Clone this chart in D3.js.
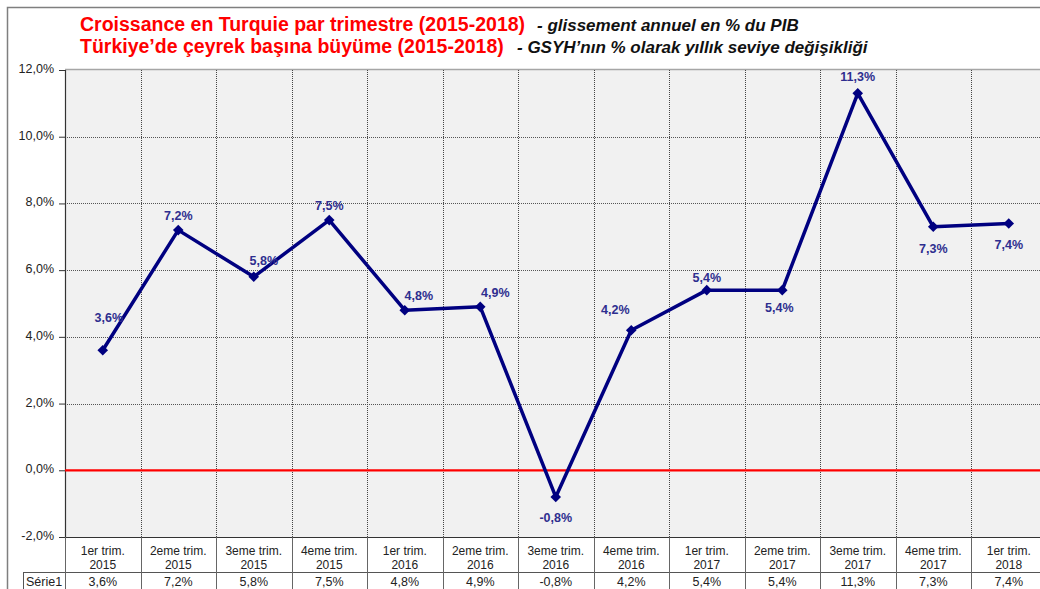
<!DOCTYPE html>
<html>
<head>
<meta charset="utf-8">
<script src="https://cdn.jsdelivr.net/npm/d3@7"></script>
<style>
  body { margin: 0; background: #fff; }
  svg { display: block; font-family: Arial, "Liberation Sans", sans-serif; }
</style>
</head>
<body>
<div id="viz"></div>
<script>
// Données
let trimestres = ['1er trim.', '2eme trim.', '3eme trim.', '4eme trim.',
                  '1er trim.', '2eme trim.', '3eme trim.', '4eme trim.',
                  '1er trim.', '2eme trim.', '3eme trim.', '4eme trim.', '1er trim.'];
let annees = ['2015', '2015', '2015', '2015', '2016', '2016', '2016', '2016',
              '2017', '2017', '2017', '2017', '2018'];
let croissance = [3.6, 7.2, 5.8, 7.5, 4.8, 4.9, -0.8, 4.2, 5.4, 5.4, 11.3, 7.3, 7.4];
let yTicks = [-2, 0, 2, 4, 6, 8, 10, 12];
let nomSerie = 'Série1';

// placement des étiquettes : [dx, dy] relatif au point
let etiquettes = [[6, -28], [0, -10], [10, -12], [0, -10], [14, -10], [15, -10], [0, 25],
                  [-16, -16], [0, -8], [-3, 22], [0, -12], [0, 26], [0, 26]];

let w = 1040;
let h = 589;
let gauche = 65;
let colW = 75.5;
let haut = 70;
let bas = 537;

let svg = d3.select('#viz')
    .append('svg')
        .attr('width', w)
        .attr('height', h);

let fmt = d3.formatLocale({decimal: ',', thousands: ' ', grouping: [3], currency: ['', '€'], minus: '-'});
let pct = v => fmt.format('.1f')(v) + '%';

let x = d3.scaleBand()
    .domain(d3.range(croissance.length))
    .range([gauche, gauche + colW * croissance.length]);

let y = d3.scaleLinear()
    .domain([-2, 12])
    .range([bas, haut]);

// cadre extérieur
svg.append('rect')
    .attr('x', 7.5).attr('y', 7.5)
    .attr('width', w + 20).attr('height', h + 20)
    .attr('fill', '#fff')
    .attr('stroke', '#7f7f7f')
    .attr('stroke-width', 1.5);

// fond de la zone de tracé
svg.append('rect')
    .attr('x', gauche).attr('y', haut)
    .attr('width', colW * croissance.length).attr('height', bas - haut)
    .attr('fill', '#f1f1f1');

// bord supérieur
svg.append('line')
    .attr('x1', gauche).attr('x2', w)
    .attr('y1', haut - 0.5).attr('y2', haut - 0.5)
    .attr('stroke', '#a6a6a6').attr('stroke-width', 1.5);

// grille horizontale
svg.append('g')
    .selectAll('line')
    .data(yTicks.filter(d => d !== 0 && d !== -2 && d !== 12))
    .enter().append('line')
        .attr('x1', gauche).attr('x2', w)
        .attr('y1', d => Math.round(y(d)) + 0.5)
        .attr('y2', d => Math.round(y(d)) + 0.5)
        .attr('stroke', '#555')
        .attr('stroke-dasharray', '1,1');

// grille verticale
svg.append('g')
    .selectAll('line')
    .data(d3.range(1, croissance.length + 1))
    .enter().append('line')
        .attr('x1', i => Math.round(x(i - 1) + colW) + 0.5)
        .attr('x2', i => Math.round(x(i - 1) + colW) + 0.5)
        .attr('y1', haut).attr('y2', bas)
        .attr('stroke', '#444')
        .attr('stroke-dasharray', '1,1');

// axe Y
let axeY = svg.append('g')
    .attr('transform', `translate(${gauche},0)`)
    .call(d3.axisLeft(y).tickValues(yTicks).tickSize(6).tickPadding(5).tickFormat(pct));
axeY.select('.domain').attr('stroke', '#333').attr('stroke-width', 1.2);
axeY.selectAll('.tick line').attr('stroke', '#333');
axeY.selectAll('.tick text')
    .attr('font-size', 12.5)
    .attr('font-family', 'Arial, "Liberation Sans", sans-serif')
    .attr('fill', '#222')
    .attr('dy', '0.2em');

// ligne du zéro
svg.append('line')
    .attr('x1', gauche).attr('x2', w)
    .attr('y1', y(0)).attr('y2', y(0))
    .attr('stroke', '#ff0000').attr('stroke-width', 2.2);

// tableau des données
let tableau = svg.append('g');
tableau.append('line')
    .attr('x1', gauche).attr('x2', w)
    .attr('y1', bas + 0.5).attr('y2', bas + 0.5)
    .attr('stroke', '#333').attr('stroke-width', 1.2);
tableau.append('line')
    .attr('x1', 23).attr('x2', w)
    .attr('y1', 572.5).attr('y2', 572.5)
    .attr('stroke', '#555');
tableau.append('line')
    .attr('x1', 23.5).attr('x2', 23.5)
    .attr('y1', 572).attr('y2', h)
    .attr('stroke', '#555');
tableau.selectAll('.sep')
    .data(d3.range(0, croissance.length + 1))
    .enter().append('line')
        .attr('class', 'sep')
        .attr('x1', i => Math.round(gauche + i * colW) + 0.5)
        .attr('x2', i => Math.round(gauche + i * colW) + 0.5)
        .attr('y1', bas).attr('y2', h)
        .attr('stroke', '#666');

tableau.selectAll('.cat1')
    .data(trimestres)
    .enter().append('text')
        .attr('x', (d, i) => x(i) + x.bandwidth() / 2)
        .attr('y', 555)
        .attr('text-anchor', 'middle')
        .attr('font-size', 12)
        .attr('fill', '#222')
        .text(d => d);
tableau.selectAll('.cat2')
    .data(annees)
    .enter().append('text')
        .attr('x', (d, i) => x(i) + x.bandwidth() / 2)
        .attr('y', 569)
        .attr('text-anchor', 'middle')
        .attr('font-size', 12)
        .attr('fill', '#222')
        .text(d => d);
tableau.selectAll('.val')
    .data(croissance)
    .enter().append('text')
        .attr('x', (d, i) => x(i) + x.bandwidth() / 2)
        .attr('y', 586)
        .attr('text-anchor', 'middle')
        .attr('font-size', 12.5)
        .attr('fill', '#222')
        .text(d => pct(d));
tableau.append('text')
    .attr('x', 26).attr('y', 586)
    .attr('font-size', 12.5)
    .attr('fill', '#222')
    .text(nomSerie);

// courbe
let ligne = d3.line()
    .x((d, i) => x(i) + x.bandwidth() / 2)
    .y(d => y(d));

svg.append('path')
    .datum(croissance)
    .attr('d', ligne)
    .attr('fill', 'none')
    .attr('stroke', '#000080')
    .attr('stroke-width', 3.5)
    .attr('stroke-linejoin', 'round');

svg.selectAll('.point')
    .data(croissance)
    .enter().append('path')
        .attr('class', 'point')
        .attr('transform', (d, i) => `translate(${x(i) + x.bandwidth() / 2},${y(d)}) rotate(45)`)
        .attr('d', d3.symbol().type(d3.symbolSquare).size(56))
        .attr('fill', '#000080');

svg.selectAll('.etiq')
    .data(croissance)
    .enter().append('text')
        .attr('class', 'etiq')
        .attr('x', (d, i) => x(i) + x.bandwidth() / 2 + etiquettes[i][0])
        .attr('y', (d, i) => y(d) + etiquettes[i][1])
        .attr('text-anchor', 'middle')
        .attr('font-size', 12.5)
        .attr('font-weight', 'bold')
        .attr('fill', '#2e2e8f')
        .text(d => pct(d));

// titres
let titres = [
    ['Croissance en Turquie par trimestre (2015-2018)', '- glissement annuel en % du PIB', 31, 537],
    ['Türkiye’de çeyrek başına büyüme (2015-2018)', '- GSYH’nın % olarak yıllık seviye değişikliği', 53, 517]
];
titres.forEach(function(t) {
    svg.append('text')
        .attr('x', 80)
        .attr('y', t[2])
        .attr('font-size', 19.5)
        .attr('font-weight', 'bold')
        .attr('fill', '#ff0000')
        .text(t[0]);
    svg.append('text')
        .attr('x', t[3])
        .attr('y', t[2])
        .attr('font-size', 17)
        .attr('font-weight', 'bold')
        .attr('font-style', 'italic')
        .attr('fill', '#111')
        .text(t[1]);
});
</script>
</body>
</html>
